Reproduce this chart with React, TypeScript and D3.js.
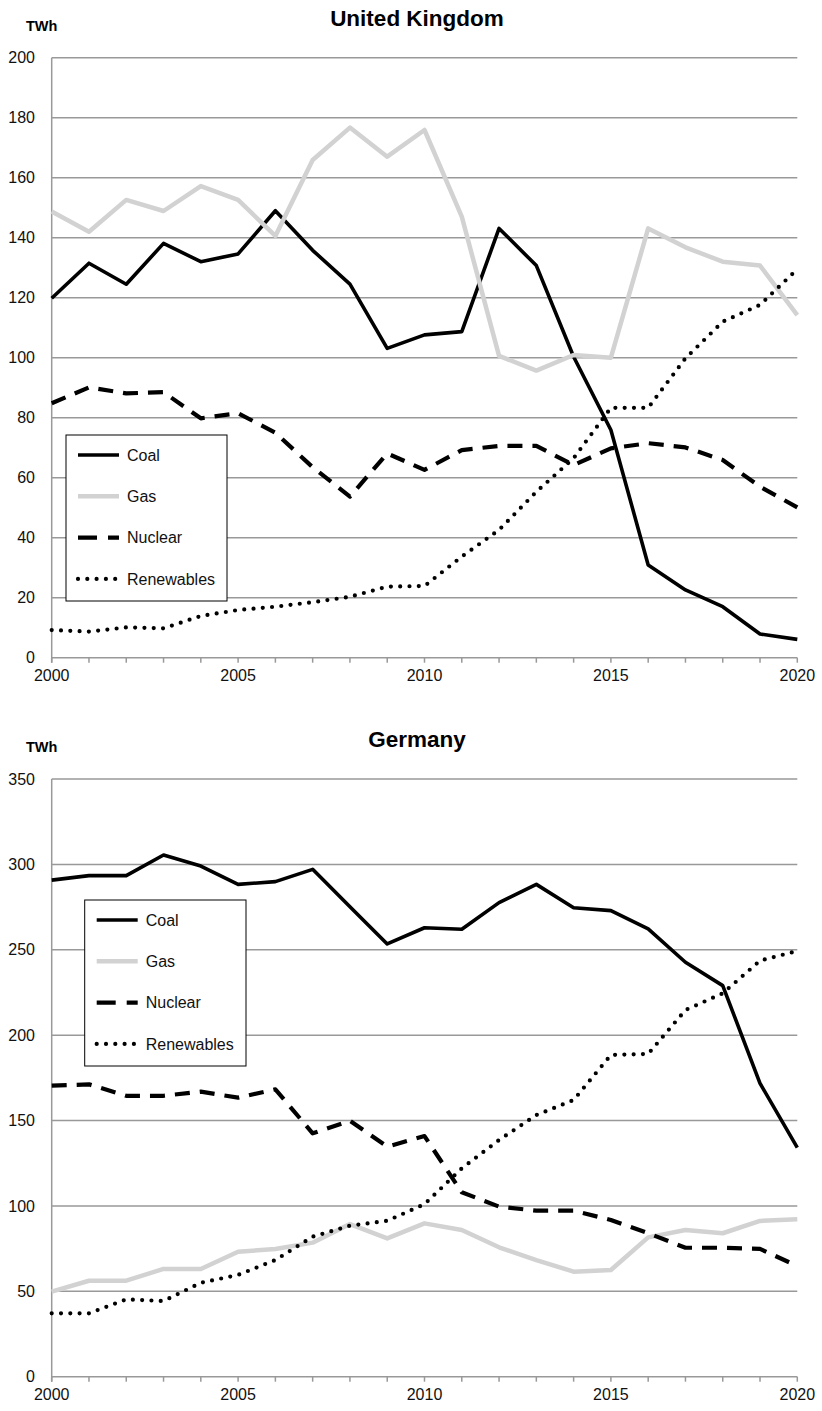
import React from "react";
import * as d3 from "d3";

const years = [2000, 2001, 2002, 2003, 2004, 2005, 2006, 2007, 2008, 2009, 2010, 2011, 2012, 2013, 2014, 2015, 2016, 2017, 2018, 2019, 2020];
const xTickLabels = [2000, 2005, 2010, 2015, 2020];

const ukCoal = [119.8, 131.5, 124.5, 138.1, 132.0, 134.6, 149.0, 135.8, 124.5, 103.1, 107.6, 108.7, 143.1, 130.7, 100.3, 75.9, 30.9, 22.6, 17.0, 7.9, 6.1];
const ukGas = [148.7, 142.0, 152.6, 148.9, 157.2, 152.6, 140.6, 165.9, 176.7, 167.0, 175.9, 147.0, 100.6, 95.7, 100.9, 100.0, 143.1, 136.8, 132.0, 130.7, 114.2];
const ukNuclear = [84.8, 90.1, 88.1, 88.5, 79.8, 81.5, 75.0, 63.5, 53.7, 68.1, 62.6, 69.2, 70.6, 70.6, 64.2, 69.8, 71.5, 70.1, 65.9, 57.0, 50.1];
const ukRenewables = [9.2, 8.7, 10.1, 9.8, 13.9, 15.9, 17.0, 18.5, 20.3, 23.7, 23.9, 33.7, 42.6, 55.3, 66.5, 83.3, 83.3, 99.8, 112.0, 117.6, 129.5];
const ukYTicks = [0, 20, 40, 60, 80, 100, 120, 140, 160, 180, 200];

const deCoal = [290.8, 293.4, 293.4, 305.5, 299.0, 288.3, 289.9, 297.1, 275.2, 253.4, 262.9, 262.0, 277.6, 288.3, 274.6, 272.9, 262.2, 242.7, 229.0, 171.8, 134.1];
const deGas = [49.8, 56.2, 56.2, 63.1, 63.1, 73.2, 74.8, 78.5, 89.4, 81.0, 89.8, 85.9, 75.8, 68.3, 61.5, 62.5, 81.6, 85.9, 84.0, 91.2, 92.2];
const deNuclear = [170.4, 171.2, 164.5, 164.5, 166.9, 163.4, 168.3, 142.5, 149.9, 134.7, 140.9, 108.0, 99.6, 97.2, 97.2, 91.8, 84.0, 75.5, 75.5, 74.8, 64.8];
const deRenewables = [37.1, 37.1, 45.3, 44.3, 55.0, 59.6, 68.3, 82.0, 88.4, 91.3, 101.0, 122.0, 138.6, 153.2, 162.0, 188.4, 189.0, 214.7, 224.5, 243.6, 249.3];
const deYTicks = [0, 50, 100, 150, 200, 250, 300, 350];

const seriesNames = ["Coal", "Gas", "Nuclear", "Renewables"];

const styles: Record<string, any> = {
  Coal: { stroke: "#000", width: 3.6, dash: null, cap: "butt" },
  Gas: { stroke: "#d2d2d2", width: 4.5, dash: null, cap: "butt" },
  Nuclear: { stroke: "#000", width: 4.2, dash: "15 10", cap: "butt" },
  Renewables: { stroke: "#000", width: 4.2, dash: "0 9.3", cap: "round" },
};

const FONT = "'Liberation Sans', Arial, sans-serif";
const X0 = 51.7;
const X1 = 797.3;

type PanelProps = {
  title: string;
  titleY: number;
  unitY: number;
  yTop: number;
  yBottom: number;
  yTicks: number[];
  yMax: number;
  data: number[][];
  legend: { x: number; y: number; w: number; h: number };
};

function Panel({ title, titleY, unitY, yTop, yBottom, yTicks, yMax, data, legend }: PanelProps) {
  const x = d3.scaleLinear().domain([years[0], years[years.length - 1]]).range([X0, X1]);
  const y = d3.scaleLinear().domain([0, yMax]).range([yBottom, yTop]);
  const line = d3
    .line<number>()
    .x((_, i) => x(years[i]))
    .y((v) => y(v));
  const gridColor = "#999";
  return (
    <g>
      <text x={417} y={titleY} textAnchor="middle" fontFamily={FONT} fontWeight="bold" fontSize={22.5}>
        {title}
      </text>
      <text x={26} y={unitY} fontFamily={FONT} fontWeight="bold" fontSize={14.5}>
        TWh
      </text>
      {yTicks.map((t) => (
        <g key={t}>
          {t > 0 && <line x1={X0} x2={X1} y1={y(t)} y2={y(t)} stroke={gridColor} strokeWidth={1.5} />}
          <text x={35} y={y(t)} dy="0.35em" textAnchor="end" fontFamily={FONT} fontSize={16} fill="#111">
            {t}
          </text>
        </g>
      ))}
      <line x1={X0} x2={X0} y1={yTop} y2={yBottom + 5} stroke={gridColor} strokeWidth={1.5} />
      <line x1={X0} x2={X1} y1={yBottom} y2={yBottom} stroke={gridColor} strokeWidth={1.5} />
      {years.map((yr) => (
        <line key={yr} x1={x(yr)} x2={x(yr)} y1={yBottom} y2={yBottom + 5} stroke={gridColor} strokeWidth={1.5} />
      ))}
      {xTickLabels.map((yr) => (
        <text key={yr} x={x(yr)} y={yBottom + 23.5} textAnchor="middle" fontFamily={FONT} fontSize={16} fill="#111">
          {yr}
        </text>
      ))}
      {seriesNames.map((name, i) => {
        const s = styles[name];
        return (
          <path
            key={name}
            d={line(data[i]) || ""}
            fill="none"
            stroke={s.stroke}
            strokeWidth={s.width}
            strokeDasharray={s.dash || undefined}
            strokeLinecap={s.cap}
            strokeLinejoin="round"
          />
        );
      })}
      <rect x={legend.x} y={legend.y} width={legend.w} height={legend.h} fill="#fff" stroke="#000" strokeWidth={1} />
      {seriesNames.map((name, i) => {
        const s = styles[name];
        const ly = legend.y + 20 + i * 41.3;
        return (
          <g key={name}>
            <line
              x1={legend.x + 12}
              x2={legend.x + 53}
              y1={ly}
              y2={ly}
              stroke={s.stroke}
              strokeWidth={s.width}
              strokeDasharray={name === "Nuclear" ? "19 11" : s.dash || undefined}
              strokeLinecap={s.cap}
            />
            <text x={legend.x + 61} y={ly} dy="0.35em" fontFamily={FONT} fontSize={16} fill="#111">
              {name}
            </text>
          </g>
        );
      })}
    </g>
  );
}

export default function App() {
  return (
    <svg
      width={822}
      height={1411}
      style={{ position: "absolute", left: 0, top: 0, background: "#fff" }}
    >
      <rect width={822} height={1411} fill="#fff" />
      <Panel
        title="United Kingdom"
        titleY={26}
        unitY={30.5}
        yTop={57.7}
        yBottom={657.7}
        yTicks={ukYTicks}
        yMax={200}
        data={[ukCoal, ukGas, ukNuclear, ukRenewables]}
        legend={{ x: 66, y: 435, w: 161, h: 166 }}
      />
      <Panel
        title="Germany"
        titleY={746.5}
        unitY={751.5}
        yTop={779}
        yBottom={1376.7}
        yTicks={deYTicks}
        yMax={350}
        data={[deCoal, deGas, deNuclear, deRenewables]}
        legend={{ x: 84.7, y: 900, w: 161.3, h: 166 }}
      />
    </svg>
  );
}
